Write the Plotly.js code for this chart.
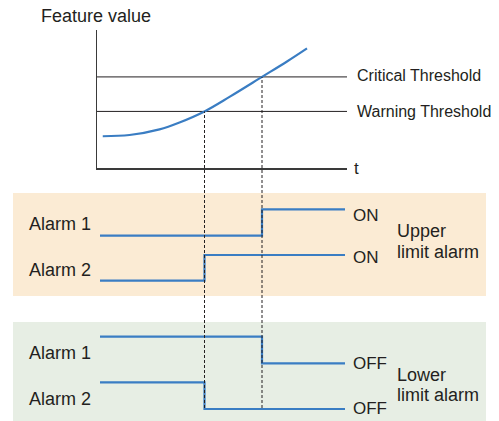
<!DOCTYPE html>
<html>
<head>
<meta charset="utf-8">
<script src="https://cdn.plot.ly/plotly-3.0.1.min.js"></script>
<style>
  html, body { margin: 0; padding: 0; background: #fff; }
  #chart { width: 499px; height: 421px; }
</style>
</head>
<body>
<div id="chart"></div>
<script>
// feature value over time (t axis 0..10, value axis 0..100)
const featureTime = [0.23, 1.3, 2.5, 3.3, 4.3, 5.3, 6.6, 7.6, 8.4];
const featureValue = [23, 23.9, 28, 33, 41, 51.5, 66, 77.2, 86.7];

const warningLevel = 41;
const criticalLevel = 66;
const warningTime = 4.3;
const criticalTime = 6.6;

// alarm states (0 = low, 1 = high), drawn as step lines
const alarmTime = [0.12, 9.92];
const upperAlarm1 = [0, 1, 1];
const upperAlarm2 = [0, 1, 1];
const lowerAlarm1 = [1, 0, 0];
const lowerAlarm2 = [1, 0, 0];

const alarmNames = ['Alarm 1', 'Alarm 2'];
const upperStates = ['ON', 'ON'];
const lowerStates = ['OFF', 'OFF'];

const W = 499, H = 421;
const px = x => x / W;
const py = y => 1 - y / H;

const ink = '#231f20';
const blue = '#3a7dc3';
const family = 'Liberation Sans, Arial, sans-serif';
const font = { family: family, size: 17, color: ink };

const topDomain = [py(168), py(30)];

function stepTrace(times, states, yaxis) {
  return {
    x: [times[0], times[1], times[2]],
    y: states,
    xaxis: 'x', yaxis: yaxis,
    type: 'scatter', mode: 'lines',
    line: { color: blue, width: 2.2, shape: 'hv' },
    hoverinfo: 'skip'
  };
}

const traces = [
  {
    x: [0, 10], y: [criticalLevel, criticalLevel],
    type: 'scatter', mode: 'lines',
    line: { color: ink, width: 1 }, hoverinfo: 'skip'
  },
  {
    x: [0, 10], y: [warningLevel, warningLevel],
    type: 'scatter', mode: 'lines',
    line: { color: ink, width: 1 }, hoverinfo: 'skip'
  },
  {
    x: featureTime, y: featureValue,
    type: 'scatter', mode: 'lines',
    line: { color: blue, width: 2.2, shape: 'spline', smoothing: 1 },
    hoverinfo: 'skip'
  },
  stepTrace([alarmTime[0], criticalTime, alarmTime[1]], upperAlarm1, 'y2'),
  stepTrace([alarmTime[0], warningTime, alarmTime[1]], upperAlarm2, 'y3'),
  stepTrace([alarmTime[0], criticalTime, alarmTime[1]], lowerAlarm1, 'y4'),
  stepTrace([alarmTime[0], warningTime, alarmTime[1]], lowerAlarm2, 'y5')
];

// alarm row axes: state 0 and 1 pixel rows
function rowAxis(y0px, y1px) {
  const unit = y0px - y1px;
  return {
    domain: [py(y0px + unit * 0.25), py(y1px - unit * 0.25)],
    range: [-0.25, 1.25],
    anchor: 'x', visible: false, fixedrange: true
  };
}

function paperOfValue(v) {
  return topDomain[0] + (v / 100) * (topDomain[1] - topDomain[0]);
}

const dashBottom = py(408);

const shapes = [
  { type: 'rect', xref: 'paper', yref: 'paper', x0: px(13), x1: px(486), y0: py(296), y1: py(193),
    fillcolor: '#fbebd4', line: { width: 0 }, layer: 'below' },
  { type: 'rect', xref: 'paper', yref: 'paper', x0: px(13), x1: px(486), y0: py(421), y1: py(322),
    fillcolor: '#e7eee4', line: { width: 0 }, layer: 'below' },
  { type: 'line', xref: 'x', yref: 'paper', x0: warningTime, x1: warningTime,
    y0: dashBottom, y1: paperOfValue(warningLevel),
    line: { color: ink, width: 1, dash: '3px,2px' } },
  { type: 'line', xref: 'x', yref: 'paper', x0: criticalTime, x1: criticalTime,
    y0: dashBottom, y1: paperOfValue(criticalLevel),
    line: { color: ink, width: 1, dash: '3px,2px' } }
];

function label(text, xp, yp, size) {
  return { text: text, xref: 'paper', yref: 'paper', x: px(xp), y: py(yp),
    xanchor: 'left', yanchor: 'middle', showarrow: false,
    font: { family: family, size: size || 17, color: ink } };
}

const annotations = [
  label('Feature value', 39, 16, 18),
  label('Critical Threshold', 355, 76, 16),
  label('Warning Threshold', 355, 111, 16),
  label('t', 352, 168),
  label(alarmNames[0], 27, 224, 18),
  label(alarmNames[1], 27, 270, 18),
  label(alarmNames[0], 27, 353, 18),
  label(alarmNames[1], 27, 399, 18),
  label(upperStates[0], 351, 215),
  label(upperStates[1], 351, 257),
  label(lowerStates[0], 351, 363),
  label(lowerStates[1], 351, 408),
  label('Upper', 395, 231, 18),
  label('limit alarm', 395, 252, 18),
  label('Lower', 395, 375, 18),
  label('limit alarm', 395, 395, 18)
];

const layout = {
  width: W, height: H,
  margin: { l: 0, r: 0, t: 0, b: 0 },
  paper_bgcolor: 'rgba(0,0,0,0)',
  plot_bgcolor: 'rgba(0,0,0,0)',
  showlegend: false,
  font: font,
  xaxis: {
    domain: [px(97), px(347)], range: [0, 10], anchor: 'y',
    showline: true, linecolor: '#3a3a3a', linewidth: 1.5,
    showgrid: false, zeroline: false, showticklabels: false, ticks: '', fixedrange: true
  },
  yaxis: {
    domain: topDomain, range: [0, 100], anchor: 'x',
    showline: true, linecolor: '#3a3a3a', linewidth: 1.5,
    showgrid: false, zeroline: false, showticklabels: false, ticks: '', fixedrange: true
  },
  yaxis2: rowAxis(235.7, 209.3),
  yaxis3: rowAxis(280.7, 255),
  yaxis4: rowAxis(363.3, 336.7),
  yaxis5: rowAxis(409, 382.3),
  shapes: shapes,
  annotations: annotations
};

Plotly.newPlot('chart', traces, layout, { staticPlot: true, displayModeBar: false });
</script>
</body>
</html>
